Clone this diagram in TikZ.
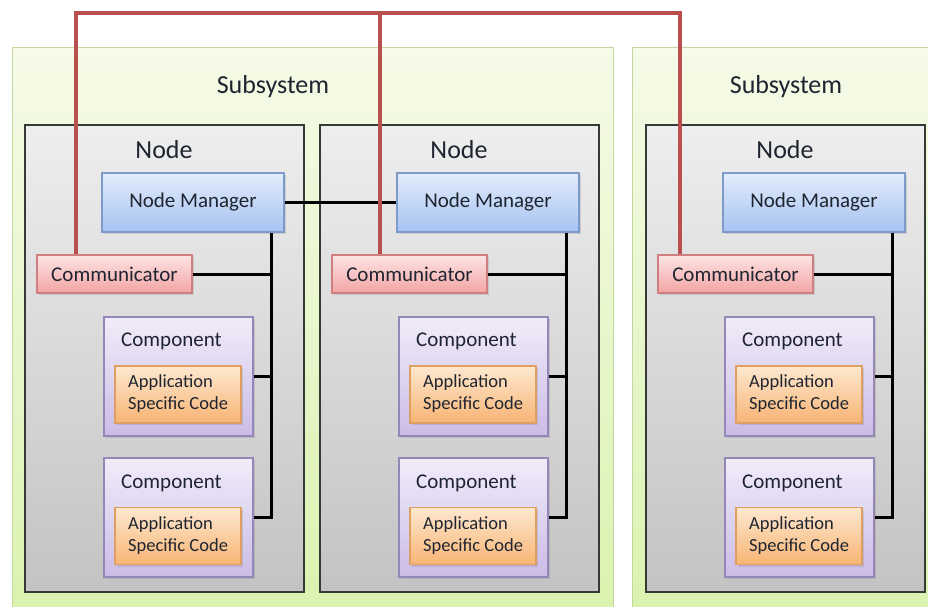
\documentclass[tikz,border=0pt]{standalone}
\usepackage{fontspec}
\setmainfont{Carlito}
\usetikzlibrary{shadows}
\definecolor{txt}{HTML}{1F2530}
\definecolor{ssTop}{HTML}{F6FAE8}
\definecolor{ssBot}{HTML}{D9F3AE}
\definecolor{ssLine}{HTML}{C2D6A0}
\definecolor{ndTop}{HTML}{EEEEEE}
\definecolor{ndBot}{HTML}{C3C3C3}
\definecolor{ndLine}{HTML}{353A35}
\definecolor{nmTop}{HTML}{E2ECFB}
\definecolor{nmBot}{HTML}{A6C3F1}
\definecolor{nmLine}{HTML}{7C9BCB}
\definecolor{cmTop}{HTML}{FDE4E4}
\definecolor{cmBot}{HTML}{F3A4A4}
\definecolor{cmLine}{HTML}{CF7F7F}
\definecolor{cpTop}{HTML}{F1ECFA}
\definecolor{cpBot}{HTML}{CBBCE6}
\definecolor{cpLine}{HTML}{9586B8}
\definecolor{acTop}{HTML}{FDE8CF}
\definecolor{acBot}{HTML}{F8B474}
\definecolor{acLine}{HTML}{DE9F62}
\definecolor{redline}{HTML}{B9504E}
\tikzset{
  box/.style={rectangle, inner sep=0pt, text=txt},
  ssbox/.style={box, draw=ssLine, line width=1pt, top color=ssTop, bottom color=ssBot},
  ndbox/.style={box, draw=ndLine, line width=1.8pt, top color=ndTop, bottom color=ndBot},
  nmbox/.style={box, draw=nmLine, line width=1.2pt, top color=nmTop, bottom color=nmBot,
    minimum width=182pt, minimum height=59pt, font=\fontsize{21}{24}\selectfont,
    drop shadow={shadow xshift=1.5pt, shadow yshift=-2pt, opacity=0.25}},
  cmbox/.style={box, draw=cmLine, line width=1.2pt, top color=cmTop, bottom color=cmBot,
    minimum width=155pt, minimum height=38pt, font=\fontsize{21}{24}\selectfont,
    drop shadow={shadow xshift=1.5pt, shadow yshift=-2pt, opacity=0.25}},
  cpbox/.style={box, draw=cpLine, line width=1.2pt, top color=cpTop, bottom color=cpBot,
    minimum width=149pt, minimum height=119pt,
    drop shadow={shadow xshift=1.5pt, shadow yshift=-2pt, opacity=0.25}},
  acbox/.style={box, draw=acLine, line width=1.1pt, top color=acTop, bottom color=acBot,
    minimum width=126pt, minimum height=57pt,
    drop shadow={shadow xshift=1.5pt, shadow yshift=-2pt, opacity=0.25}},
  bigtitle/.style={text=txt, font=\fontsize{26}{30}\selectfont, inner sep=0pt},
  cptitle/.style={text=txt, font=\fontsize{21}{24}\selectfont, inner sep=0pt, anchor=west},
  actext/.style={text=txt, font=\fontsize{18.5}{22}\selectfont, inner sep=0pt, anchor=west, align=left},
  bus/.style={draw=black, line width=3pt},
  redlink/.style={draw=redline, line width=3.2pt},
}
\begin{document}
\begin{tikzpicture}[x=1pt, y=-1pt]
\useasboundingbox (0,0) rectangle (928,606);
\clip (0,0) rectangle (928,606);
\fill[white] (0,0) rectangle (928,606);

% the two subsystems
\node[ssbox, minimum width=601pt, minimum height=573pt] (ss1) at (312.5,333.5) {};
\node[ssbox, minimum width=308pt, minimum height=573pt] (ss2) at (786,333.5) {};
\node[bigtitle] (ss1t) at (273,87) {Subsystem};
\node[bigtitle] (ss2t) at (786,87) {Subsystem};

% one node per column: node box, manager, communicator, two components
\foreach \o/\i in {0/1, 295/2, 621/3} {
  \begin{scope}[shift={(\o,0)}]
    \node[ndbox, minimum width=279pt, minimum height=467pt] (nd\i) at (164.5,358.5) {};
    \node[bigtitle] (nd\i t) at (164,150) {Node};
    \coordinate (b\i) at (271,0);
  \end{scope}
}
\foreach \o/\i in {0/1, 295/2, 621/3} {
  \begin{scope}[shift={(\o,0)}]
    \node[nmbox] (nm\i) at (193,202.5) {Node Manager};
    \node[cmbox] (cm\i) at (114.5,274) {Communicator};
    \node[cpbox] (cpa\i) at (178.5,376.5) {};
    \node[cpbox] (cpb\i) at (178.5,517.5) {};
    \node[acbox] (aca\i) at (178,394.5) {};
    \node[acbox] (acb\i) at (178,536) {};
    \node[cptitle] (cpa\i t) at (121,341) {Component};
    \node[cptitle] (cpb\i t) at (121,483) {Component};
    \node[actext] (aca\i t) at (128,394) {Application\\Specific Code};
    \node[actext] (acb\i t) at (128,536) {Application\\Specific Code};
  \end{scope}
  % local bus inside the node
  \draw[bus] (nm\i.south -| b\i) |- (cpb\i.east);
  \draw[bus] (cm\i.east) -- (cm\i.east -| b\i);
  \draw[bus] (cpa\i.east) -- (cpa\i.east -| b\i);
}

% link between the two managers of the first subsystem
\draw[bus] (nm1.east) -- (nm2.west);

% communication line joining the communicators
\coordinate (r1) at (76,13);
\coordinate (r2) at (380,13);
\coordinate (r3) at (680,13);
\draw[redlink] (cm1.north -| r1) -- (r1) -- (r3) -- (cm3.north -| r3);
\draw[redlink] (r2) -- (cm2.north -| r2);
\end{tikzpicture}
\end{document}
